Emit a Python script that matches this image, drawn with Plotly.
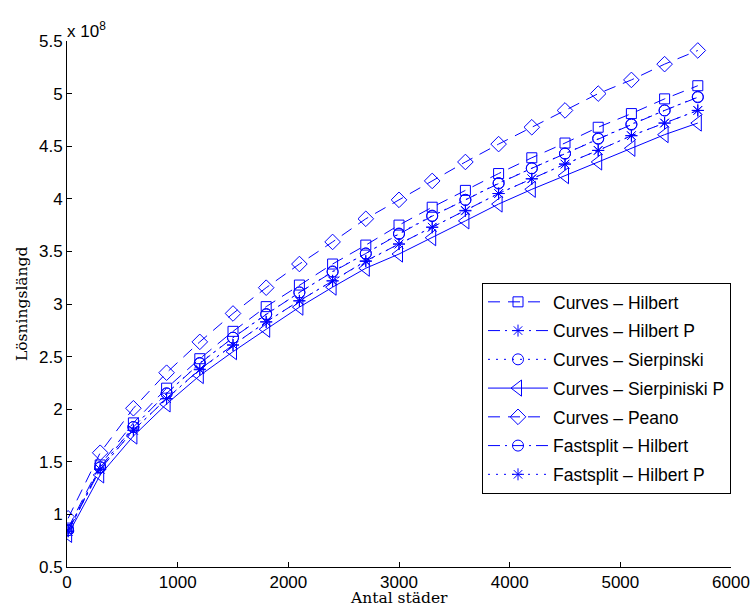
import plotly.graph_objects as go

# Data (solution length in units of 1e8)
x_cities = [10, 300, 600, 900, 1200, 1500, 1800, 2100, 2400, 2700, 3000,
            3300, 3600, 3900, 4200, 4500, 4800, 5100, 5400, 5700]

curves_hilbert = [0.87, 1.47, 1.87, 2.20, 2.48, 2.74, 2.975, 3.18, 3.38, 3.56,
                  3.75, 3.92, 4.08, 4.24, 4.39, 4.53, 4.68, 4.81, 4.95, 5.075]
curves_hilbert_p = [0.84, 1.43, 1.80, 2.10, 2.38, 2.61, 2.83, 3.03, 3.22, 3.41,
                    3.57, 3.73, 3.89, 4.05, 4.19, 4.33, 4.46, 4.60, 4.72, 4.84]
curves_sierpinski = [0.85, 1.45, 1.83, 2.15, 2.44, 2.68, 2.905, 3.11, 3.31, 3.48,
                     3.67, 3.84, 3.99, 4.15, 4.29, 4.43, 4.575, 4.71, 4.84, 4.97]
curves_sierpinski_p = [0.81, 1.375, 1.745, 2.05, 2.32, 2.547, 2.76, 2.97, 3.16, 3.34,
                       3.475, 3.63, 3.79, 3.95, 4.09, 4.22, 4.35, 4.48, 4.61, 4.72]
curves_peano = [0.963, 1.586, 2.009, 2.347, 2.64, 2.91, 3.155, 3.38, 3.59, 3.81,
                3.99, 4.17, 4.35, 4.52, 4.68, 4.84, 5.0, 5.13, 5.28, 5.41]
fastsplit_hilbert = [0.85, 1.445, 1.83, 2.15, 2.435, 2.68, 2.90, 3.11, 3.305, 3.48,
                     3.665, 3.835, 3.99, 4.145, 4.29, 4.43, 4.57, 4.705, 4.84, 4.965]
fastsplit_hilbert_p = [0.84, 1.43, 1.80, 2.10, 2.375, 2.61, 2.83, 3.03, 3.22, 3.405,
                       3.57, 3.73, 3.885, 4.05, 4.19, 4.33, 4.46, 4.60, 4.72, 4.84]

series_names = ["Curves – Hilbert", "Curves – Hilbert P", "Curves – Sierpinski",
                "Curves – Sierpiniski P", "Curves – Peano", "Fastsplit – Hilbert",
                "Fastsplit – Hilbert P"]
series_values = [curves_hilbert, curves_hilbert_p, curves_sierpinski,
                 curves_sierpinski_p, curves_peano, fastsplit_hilbert, fastsplit_hilbert_p]

x_ticks = [0, 1000, 2000, 3000, 4000, 5000, 6000]
y_ticks = [0.5, 1, 1.5, 2, 2.5, 3, 3.5, 4, 4.5, 5, 5.5]
y_ticktext = ["0.5", "1", "1.5", "2", "2.5", "3", "3.5", "4", "4.5", "5", "5.5"]
x_title = "Antal städer"
y_title = "Lösningslängd"

# styles
DASH = "12px,8px"
DASHDOT = "12px,5px,2px,5px"
DOT = "2px,6px"
series_dash = [DASH, DASHDOT, DOT, "solid", DASH, DASHDOT, DOT]
series_symbol = ["square-open", "asterisk-open", "circle-open", "triangle-left-open",
                 "diamond-open", "circle-open", "asterisk-open"]
series_size = [10, 10, 11, 14, 12, 11, 10]

BLUE = "rgb(0,0,255)"
fig = go.Figure()
for i, (name, vals) in enumerate(zip(series_names, series_values)):
    fig.add_trace(go.Scatter(
        x=x_cities, y=vals, name=name, mode="lines+markers",
        legendgroup=f"g{i}",
        line=dict(color=BLUE, width=1, dash=series_dash[i]),
        marker=dict(symbol=series_symbol[i], size=series_size[i], color=BLUE,
                    line=dict(color=BLUE, width=1)),
    ))

SANS = "Liberation Sans, Arial, sans-serif"
SERIF = "DejaVu Serif, serif"
tickfont = dict(family=SANS, size=17, color="black")
titlefont = dict(family=SERIF, size=15.5, color="black")

fig.update_layout(
    width=752, height=607,
    margin=dict(l=67, r=21, t=41, b=40),
    paper_bgcolor="white", plot_bgcolor="white",
    showlegend=True,
    legend=dict(x=1.0, xanchor="right", y=0.54, yanchor="top",
                bordercolor="black", borderwidth=1, bgcolor="white",
                font=dict(family=SANS, size=17.5, color="black"),
                tracegroupgap=3, itemwidth=60),
    xaxis=dict(range=[0, 6000], tickvals=x_ticks, ticks="inside", ticklen=5,
               tickcolor="black", showline=True, linecolor="black", linewidth=1,
               showgrid=False, zeroline=False, tickfont=tickfont, automargin=False),
    yaxis=dict(range=[0.5, 5.5], tickvals=y_ticks, ticktext=y_ticktext, ticks="inside",
               ticklen=5, tickcolor="black", showline=True, linecolor="black",
               linewidth=1, showgrid=False, zeroline=False, tickfont=tickfont,
               automargin=False),
    annotations=[
        dict(text="x 10<sup>8</sup>", xref="paper", yref="paper", x=0, y=1,
             xanchor="left", yanchor="bottom", showarrow=False, yshift=-2, xshift=-2,
             font=dict(family=SANS, size=17, color="black")),
        dict(text=x_title, xref="paper", yref="paper", x=0.5, y=0,
             xanchor="center", yanchor="middle", showarrow=False, yshift=-31,
             borderpad=0, font=titlefont),
        dict(text=y_title, xref="paper", yref="paper", x=0, y=0.5,
             xanchor="center", yanchor="middle", showarrow=False, xshift=-45,
             textangle=-90, font=titlefont),
    ],
)

fig.write_html("out.html")
